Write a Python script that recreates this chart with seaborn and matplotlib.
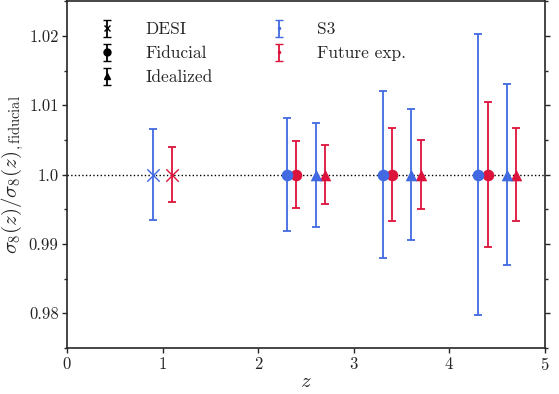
import numpy as np
import pandas as pd
import matplotlib
matplotlib.use('Agg')
import matplotlib.pyplot as plt
import seaborn as sns
from matplotlib.ticker import MultipleLocator

# data: 1-sigma errors on sigma8(z)/sigma8_fid(z)
z_desi = [1.0]
desi_s3 = [0.0066]
desi_fut = [0.0040]

z_bins = [2.5, 3.5, 4.5]
fid_s3 = [0.0082, 0.0120, 0.0202]
fid_fut = [0.0048, 0.0067, 0.0105]
ideal_s3 = [0.0075, 0.0094, 0.0130]
ideal_fut = [0.0043, 0.0050, 0.0067]

ytick_vals = [0.98, 0.99, 1.0, 1.01, 1.02]
ytick_labels = ['0.98', '0.99', '1.0', '1.01', '1.02']

blue = 'royalblue'
red = 'crimson'

sns.set_style('ticks')
plt.rcParams['font.family'] = 'serif'
plt.rcParams['font.serif'] = ['cmr10', 'DejaVu Serif']
plt.rcParams['mathtext.fontset'] = 'cm'
plt.rcParams['axes.formatter.use_mathtext'] = True

# build one long table of all points
rows = []
for z, e in zip(z_desi, desi_s3):
    rows.append(dict(z=z - 0.1, err=e, survey='S3', setup='DESI'))
for z, e in zip(z_desi, desi_fut):
    rows.append(dict(z=z + 0.1, err=e, survey='Future exp.', setup='DESI'))
for z, e in zip(z_bins, fid_s3):
    rows.append(dict(z=z - 0.2, err=e, survey='S3', setup='Fiducial'))
for z, e in zip(z_bins, fid_fut):
    rows.append(dict(z=z - 0.1, err=e, survey='Future exp.', setup='Fiducial'))
for z, e in zip(z_bins, ideal_s3):
    rows.append(dict(z=z + 0.1, err=e, survey='S3', setup='Idealized'))
for z, e in zip(z_bins, ideal_fut):
    rows.append(dict(z=z + 0.2, err=e, survey='Future exp.', setup='Idealized'))
df = pd.DataFrame(rows)
df['ratio'] = 1.0

colors = {'S3': blue, 'Future exp.': red}
markers = {'DESI': 'x', 'Fiducial': 'o', 'Idealized': '^'}

fig, ax = plt.subplots(figsize=(5.59, 3.94), dpi=100)
fig.subplots_adjust(left=0.12, right=0.975, bottom=0.117, top=0.997)

ax.axhline(1.0, color='black', ls=':', lw=1, zorder=1)

for (survey, setup), g in df.groupby(['survey', 'setup']):
    ax.errorbar(g['z'], g['ratio'], yerr=g['err'], fmt='none', ecolor=colors[survey],
                elinewidth=1.3, capsize=3, capthick=1.3, zorder=2)
    sns.scatterplot(data=g, x='z', y='ratio', ax=ax, color=colors[survey],
                    marker=markers[setup], s=70 if setup != 'DESI' else 80,
                    linewidth=1.0 if setup == 'DESI' else 0, edgecolor=colors[survey],
                    zorder=3, legend=False)

# legend handles
h = []
for lab, m, ms in [('DESI', 'x', 4), ('Fiducial', 'o', 5), ('Idealized', '^', 5)]:
    h.append(ax.errorbar([np.nan], [np.nan], yerr=[np.nan], fmt=m, color='black', ms=ms,
                         elinewidth=1.3, capsize=3, label=lab))
for lab, c in [('S3', blue), ('Future exp.', red)]:
    h.append(ax.errorbar([np.nan], [np.nan], yerr=[np.nan], fmt='.', color=c, ms=3,
                         elinewidth=1.3, capsize=3, label=lab))
ax.legend(handles=h, ncol=2, loc='upper left', bbox_to_anchor=(0.03, 0.985),
          frameon=False, fontsize=12.5, handlelength=1.2, handletextpad=1.6,
          columnspacing=3.2, labelspacing=0.5)

ax.set_xlim(0, 5)
ax.set_ylim(0.975, 1.025)
ax.set_yticks(ytick_vals)
ax.set_yticklabels(ytick_labels)
ax.yaxis.set_minor_locator(MultipleLocator(0.005))
ax.tick_params(axis='both', which='major', direction='out', length=3.5, width=1,
               labelsize=12, right=True, pad=2.5)
ax.tick_params(axis='y', which='minor', direction='out', length=2, width=1, right=True)
for s in ax.spines.values():
    s.set_linewidth(1.2)
    s.set_visible(True)

ax.set_xlabel(r'$z$', fontsize=15, labelpad=0)
ax.set_ylabel(r'$\sigma_8(z)/\sigma_8(z)_{,\mathrm{fiducial}}$', fontsize=15, labelpad=2)

fig.savefig('out.png', dpi=100)
